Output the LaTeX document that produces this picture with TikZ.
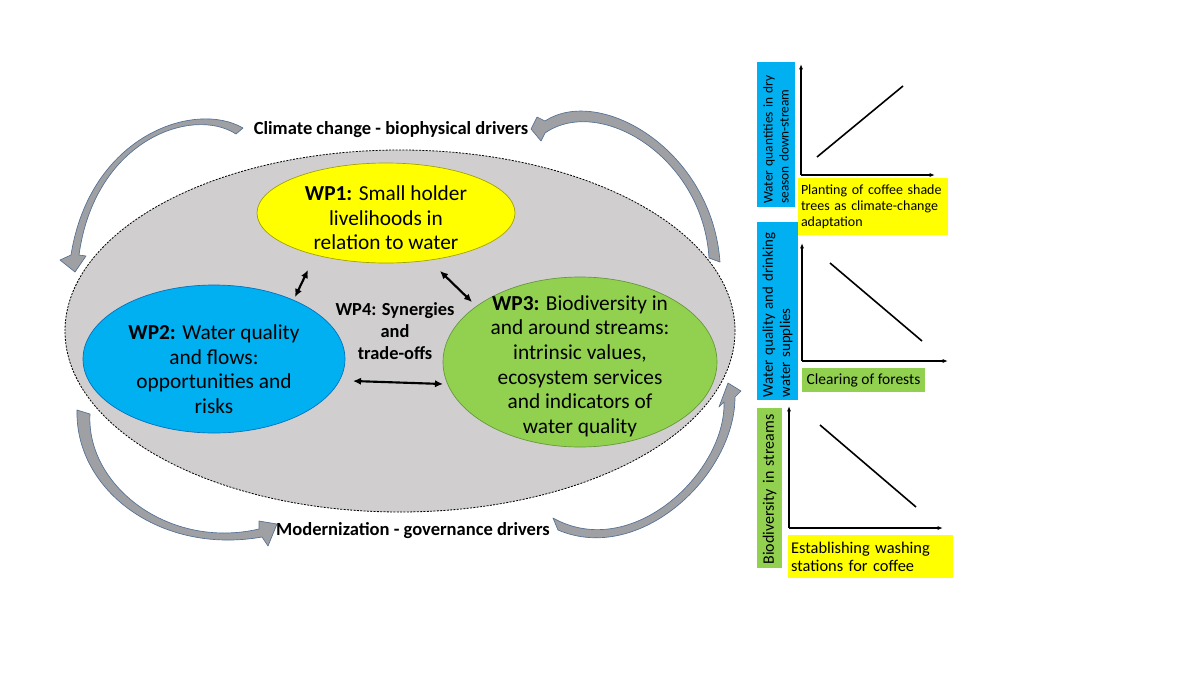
\documentclass[tikz,border=0pt]{standalone}
\usepackage{fontspec}
\setmainfont{Carlito}
\usetikzlibrary{shapes.geometric,arrows.meta}
\definecolor{bggray}{RGB}{208,206,206}
\definecolor{wpyellow}{RGB}{255,255,0}
\definecolor{wpblue}{RGB}{0,176,240}
\definecolor{wpgreen}{RGB}{146,208,80}
\definecolor{arrfill}{RGB}{158,160,164}
\definecolor{arrline}{RGB}{84,112,148}
\definecolor{yline}{RGB}{160,160,0}
\definecolor{bline}{RGB}{0,112,192}
\definecolor{gline}{RGB}{100,150,60}
\begin{document}
\begin{tikzpicture}[x=0.75pt,y=-0.75pt,
  wpell/.style={ellipse, draw, line width=0.5pt, inner sep=0pt},
  wptxt/.style={align=center, inner sep=0pt, font=\fontsize{16}{18.5}\selectfont},
  drv/.style={inner sep=0pt, font=\bfseries\fontsize{13.9}{16}\selectfont},
  dbl/.style={{Latex[length=6pt,width=5.5pt]}-{Latex[length=6pt,width=5.5pt]}, line width=1.6pt},
  axisarr/.style={-{Latex[length=4pt,width=3pt]}, line width=0.8pt},
  trend/.style={line width=1.2pt},
  curv/.style={fill=arrfill, draw=arrline, line width=0.5pt, line join=round},
  lbl/.style={inner sep=2pt, align=left, font=\fontsize{10.5}{12}\selectfont}]
\useasboundingbox (0,0) rectangle (1200,675);

% background ellipse
\node[ellipse, draw, fill=bggray, dash pattern=on 1.5pt off 1pt, line width=0.6pt,
      minimum width=502.5pt, minimum height=271.5pt, inner sep=0pt] (bg) at (400,331) {};

% curved driver arrows
\path[curv] (243,128) .. controls (195,100) and (90,135) .. (71,255) -- (60,260) -- (75,272) -- (86,256) -- (79,255)
   .. controls (95,139) and (193,106) .. (236,134) -- cycle;
\path[curv] (720,262) .. controls (712,150) and (600,85) .. (545,121) -- (537,117) -- (531,129) -- (541,141) -- (545,133)
   .. controls (600,95) and (703,157) .. (709,258) -- cycle;
\path[curv] (77,410) .. controls (75,490) and (160,555) .. (262,537) -- (268,546) -- (277,524) -- (259,521) -- (259,529)
   .. controls (168,550) and (86,485) .. (90,414) -- cycle;
\path[curv] (558,530) .. controls (640,565) and (735,475) .. (735,397) -- (741,391) -- (728,383) -- (719,407) -- (724,402)
   .. controls (726,472) and (632,562) .. (553,518) -- cycle;

\node[drv] (clim) at (391,130) {Climate change - biophysical drivers};
\node[drv] (mod) at (413,531) {Modernization - governance drivers};

% work packages
\node[wpell, fill=wpyellow, draw=yline, minimum width=193.5pt, minimum height=75pt] (wp1) at (386,213) {};
\node[wpell, fill=wpblue, draw=bline, minimum width=196.5pt, minimum height=111pt] (wp2) at (214,359) {};
\node[wpell, fill=wpgreen, draw=gline, minimum width=205.5pt, minimum height=127.5pt] (wp3) at (580,362) {};

\node[wptxt] (wp1t) at (386,218) {\textbf{WP1:} Small holder\\livelihoods in\\relation to water};
\node[wptxt] (wp2t) at (214,369) {\textbf{WP2:} Water quality\\and flows:\\opportunities and\\risks};
\node[wptxt] (wp3t) at (580,366) {\textbf{WP3:} Biodiversity in\\and around streams:\\intrinsic values,\\ecosystem services\\and indicators of\\water quality};
\node[wptxt, font=\bfseries\fontsize{13.8}{16.5}\selectfont] (wp4t) at (395,331) {WP4: Synergies\\and\\trade-offs};

\coordinate (c12a) at (308,270);
\coordinate (c12b) at (295,297);
\coordinate (c13a) at (440,271);
\coordinate (c13b) at (472,302);
\coordinate (c23a) at (353,381);
\coordinate (c23b) at (443,384);
\draw[dbl] (c12a) -- (c12b);
\draw[dbl] (c13a) -- (c13b);
\draw[dbl] (c23a) -- (c23b);

% graph 1
\node[lbl, fill=wpblue, rotate=90, minimum width=108.75pt, minimum height=28.5pt, text width=104pt, font=\fontsize{10}{12}\selectfont] (b1) at (776,134.5) {Water quantities in dry\\season down-stream};
\node[lbl, fill=wpyellow, minimum width=112.5pt, minimum height=42.75pt, text width=108pt] (y1) at (873,206.5) {Planting of coffee shade\\trees as climate-change\\adaptation};
\coordinate (o1) at (801,175);
\coordinate (yt1) at (801,64);
\coordinate (xt1) at (935,175);
\coordinate (l1a) at (817,157);
\coordinate (l1b) at (903,86);
\draw[axisarr] (o1) -- (yt1);
\draw[axisarr] (o1) -- (xt1);
\draw[trend] (l1a) -- (l1b);

% graph 2
\node[lbl, fill=wpblue, rotate=90, minimum width=133.5pt, minimum height=30.75pt, text width=129pt, font=\fontsize{11.1}{13}\selectfont] (b2) at (777.5,311) {Water quality and drinking\\water supplies};
\node[lbl, fill=wpgreen, minimum width=92.25pt, minimum height=18pt, align=center, font=\fontsize{11.6}{13}\selectfont] (g2) at (863.5,380) {Clearing of forests};
\coordinate (o2) at (802,361);
\coordinate (yt2) at (802,243);
\coordinate (xt2) at (948,361);
\coordinate (l2a) at (830,263);
\coordinate (l2b) at (922,341);
\draw[axisarr] (o2) -- (yt2);
\draw[axisarr] (o2) -- (xt2);
\draw[trend] (l2a) -- (l2b);

% graph 3
\node[lbl, fill=wpgreen, rotate=90, minimum width=120pt, minimum height=18.75pt, text width=115pt, inner sep=1pt, font=\fontsize{12}{13}\selectfont] (g3) at (769.5,488) {Biodiversity in streams};
\node[lbl, fill=wpyellow, minimum width=123.75pt, minimum height=32.25pt, text width=119pt, font=\fontsize{12.3}{13.5}\selectfont] (y3) at (870.5,556.5) {Establishing washing\\stations for coffee};
\coordinate (o3) at (789,528);
\coordinate (yt3) at (789,406);
\coordinate (xt3) at (943,528);
\coordinate (l3a) at (820,425);
\coordinate (l3b) at (916,507);
\draw[axisarr] (o3) -- (yt3);
\draw[axisarr] (o3) -- (xt3);
\draw[trend] (l3a) -- (l3b);
\end{tikzpicture}
\end{document}
